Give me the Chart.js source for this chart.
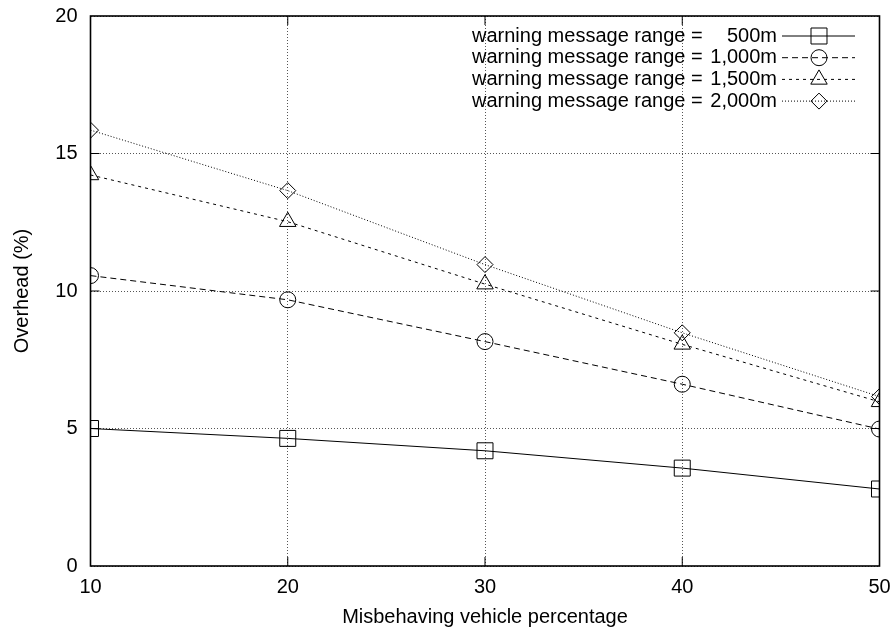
<!DOCTYPE html>
<html>
<head>
<meta charset="utf-8">
<script src="https://cdn.jsdelivr.net/npm/chart.js@4.4.1/dist/chart.umd.min.js"></script>
<style>
  html, body { margin: 0; padding: 0; background: #fff; }
  #wrap { width: 894px; height: 633px; }
</style>
</head>
<body>
<div id="wrap"><canvas id="chart" width="894" height="633"></canvas></div>
<script>
// Data
const misbehavingPct = [10, 20, 30, 40, 50]
const rangeLabels = ['500m', '1,000m', '1,500m', '2,000m']
const overhead500 = [5.0, 4.64, 4.19, 3.56, 2.8]
const overhead1000 = [10.56, 9.68, 8.16, 6.61, 4.98]
const overhead1500 = [14.22, 12.52, 10.25, 8.06, 5.97]
const overhead2000 = [15.85, 13.65, 10.96, 8.48, 6.16]
const yTicks = [0, 5, 10, 15, 20]
const xTicks = [10, 20, 30, 40, 50]

const FONT = 'Liberation Sans, Arial, Helvetica, sans-serif'
const LABEL_PREFIX = 'warning message range = '

function series(values, label, dash, style, radius) {
    return {
        label: LABEL_PREFIX + label,
        data: values.map((v, i) => ({ x: misbehavingPct[i], y: v })),
        borderColor: '#000',
        borderWidth: 1,
        borderDash: dash,
        pointStyle: style,
        pointRadius: radius,
        pointBorderColor: '#000',
        pointBorderWidth: 1,
        pointBackgroundColor: 'rgba(0,0,0,0)',
        tension: 0,
        fill: false
    }
}

const datasets = [
    series(overhead500, rangeLabels[0], [], 'rect', 11.3),
    series(overhead1000, rangeLabels[1], [6, 4], 'circle', 8),
    series(overhead1500, rangeLabels[2], [3, 4], 'triangle', 9.5),
    series(overhead2000, rangeLabels[3], [1, 2], 'rectRot', 8)
]

// draw a marker the same way Chart.js does for the legend samples
function marker(ctx, style, r, x, y) {
    ctx.beginPath()
    if (style === 'rect') {
        const s = Math.SQRT1_2 * r
        ctx.rect(x - s, y - s, 2 * s, 2 * s)
    } else if (style === 'circle') {
        ctx.arc(x, y, r, 0, Math.PI * 2)
    } else if (style === 'triangle') {
        ctx.moveTo(x, y - r)
        ctx.lineTo(x + Math.sin(2 * Math.PI / 3) * r, y + r / 2)
        ctx.lineTo(x - Math.sin(2 * Math.PI / 3) * r, y + r / 2)
        ctx.closePath()
    } else if (style === 'rectRot') {
        ctx.moveTo(x - r, y)
        ctx.lineTo(x, y - r)
        ctx.lineTo(x + r, y)
        ctx.lineTo(x, y + r)
        ctx.closePath()
    }
    ctx.stroke()
}

// frame, inward ticks and the legend box in the top right corner
const framePlugin = {
    id: 'frame',
    afterDraw(chart) {
        const { ctx, chartArea: a, scales } = chart
        ctx.save()
        ctx.strokeStyle = '#000'
        ctx.setLineDash([])
        ctx.lineWidth = 1
        const tl = 9
        xTicks.slice(1, -1).forEach(v => {
            const px = scales.x.getPixelForValue(v)
            ctx.beginPath()
            ctx.moveTo(px, a.bottom); ctx.lineTo(px, a.bottom - tl)
            ctx.moveTo(px, a.top); ctx.lineTo(px, a.top + tl)
            ctx.stroke()
        })
        yTicks.slice(1, -1).forEach(v => {
            const py = scales.y.getPixelForValue(v)
            ctx.beginPath()
            ctx.moveTo(a.left, py); ctx.lineTo(a.left + tl, py)
            ctx.moveTo(a.right, py); ctx.lineTo(a.right - tl, py)
            ctx.stroke()
        })
        ctx.lineWidth = 1.6
        ctx.strokeRect(a.left, a.top, a.right - a.left, a.bottom - a.top)

        // legend
        ctx.font = '20px ' + FONT
        ctx.fillStyle = '#000'
        ctx.textBaseline = 'middle'
        chart.data.datasets.forEach((ds, i) => {
            const y = a.top + 20 + i * 21.7
            ctx.textAlign = 'left'
            ctx.fillText(LABEL_PREFIX.trim(), 472, y)
            ctx.textAlign = 'right'
            ctx.fillText(rangeLabels[i], 777, y)
            ctx.lineWidth = 1
            ctx.setLineDash(ds.borderDash)
            ctx.beginPath()
            ctx.moveTo(782, y); ctx.lineTo(855, y)
            ctx.stroke()
            ctx.setLineDash([])
            marker(ctx, ds.pointStyle, ds.pointRadius, 819, y)
        })
        ctx.restore()
    }
}

new Chart(document.getElementById('chart'), {
    type: 'line',
    data: { datasets },
    plugins: [framePlugin],
    options: {
        responsive: false,
        animation: false,
        events: [],
        layout: { padding: { left: 0, right: 14.5, top: 16, bottom: 0 } },
        plugins: { legend: { display: false }, tooltip: { enabled: false } },
        scales: {
            x: {
                type: 'linear',
                min: 10,
                max: 50,
                afterFit: s => { s.height = 67; s.paddingLeft = 0; s.paddingRight = 0 },
                afterBuildTicks: s => { s.ticks = xTicks.map(v => ({ value: v })) },
                grid: { color: '#555', lineWidth: 1, drawTicks: false },
                border: { display: false, dash: [1, 2] },
                ticks: { color: '#000', padding: 9, font: { family: FONT, size: 20 } },
                title: {
                    display: true,
                    text: 'Misbehaving vehicle percentage',
                    color: '#000',
                    font: { family: FONT, size: 20 },
                    padding: { top: 0, bottom: 4 }
                }
            },
            y: {
                min: 0,
                max: 20,
                afterFit: s => { s.width = 90.5; s.paddingTop = 0; s.paddingBottom = 0 },
                afterBuildTicks: s => { s.ticks = yTicks.map(v => ({ value: v })) },
                grid: { color: '#555', lineWidth: 1, drawTicks: false },
                border: { display: false, dash: [1, 2] },
                ticks: { color: '#000', padding: 13, font: { family: FONT, size: 20 } },
                title: {
                    display: true,
                    text: 'Overhead (%)',
                    color: '#000',
                    font: { family: FONT, size: 20 },
                    padding: { top: 10, bottom: 0 }
                }
            }
        }
    }
})
</script>
</body>
</html>
